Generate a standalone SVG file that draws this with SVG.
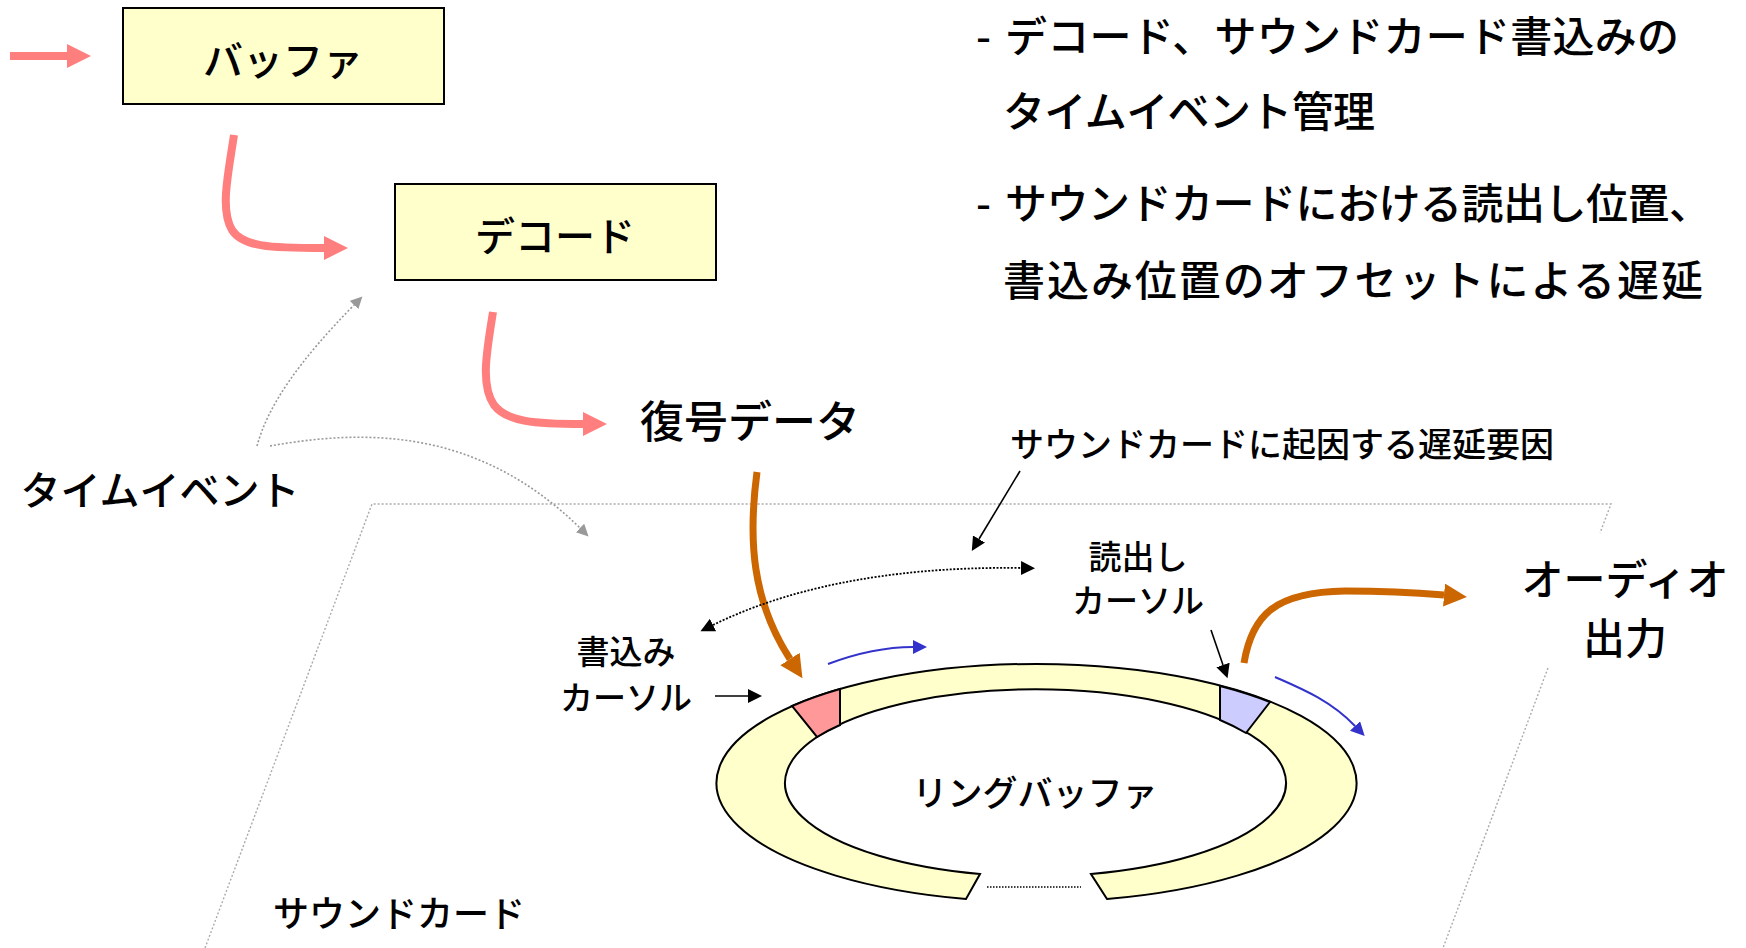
<svg xmlns="http://www.w3.org/2000/svg" width="1746" height="948" viewBox="0 0 1746 948">
<style>
text{font-family:"Noto Sans CJK JP","Noto Sans CJK SC",sans-serif;font-weight:500;fill:#000;dominant-baseline:central;text-anchor:middle}
.note{text-anchor:start}
.box{fill:#FFFFCC;stroke:#000;stroke-width:2}
.pink{fill:none;stroke:#FF7F7F;stroke-width:8}
.orange{fill:none;stroke:#CC6600;stroke-width:7}
.blue{fill:none;stroke:#3333CC;stroke-width:2}
.gray{fill:none;stroke:#999;stroke-width:1.6;stroke-dasharray:2 2}
.blk{fill:none;stroke:#000;stroke-width:1.6}
.blkdot{fill:none;stroke:#000;stroke-width:1.8;stroke-dasharray:2 1.6}
.frame{fill:none;stroke:#AAA;stroke-width:1.4;stroke-dasharray:2 2}
.ring{fill:#FFFFCC;stroke:#000;stroke-width:2}
</style>
<defs>
<marker id="mPink" markerUnits="userSpaceOnUse" markerWidth="26" markerHeight="26" refX="0" refY="12" orient="auto"><path d="M0,0 L24,12 L0,24 Z" fill="#FF7F7F"/></marker>
<marker id="mOrange" markerUnits="userSpaceOnUse" markerWidth="26" markerHeight="26" refX="0" refY="11.5" orient="auto"><path d="M0,0 L23,11.5 L0,23 Z" fill="#CC6600"/></marker>
<marker id="mBlue" markerUnits="userSpaceOnUse" markerWidth="16" markerHeight="16" refX="0" refY="7" orient="auto"><path d="M0,0 L14,7 L0,14 Z" fill="#3333CC"/></marker>
<marker id="mBlack" markerUnits="userSpaceOnUse" markerWidth="16" markerHeight="16" refX="0" refY="7" orient="auto"><path d="M0,0 L14,7 L0,14 Z" fill="#000"/></marker>
<marker id="mBlackS" markerUnits="userSpaceOnUse" markerWidth="16" markerHeight="16" refX="0" refY="7" orient="auto-start-reverse"><path d="M0,0 L14,7 L0,14 Z" fill="#000"/></marker>
<marker id="mGray" markerUnits="userSpaceOnUse" markerWidth="14" markerHeight="14" refX="0" refY="6" orient="auto"><path d="M0,0 L12,6 L0,12 Z" fill="#999"/></marker>
</defs>

<g id="soundcard-frame">
<polyline class="frame" points="205,948 372,504 1611,504 1600,533"/>
<line class="frame" x1="1548" y1="668" x2="1443" y2="948"/>
</g>

<g id="buffer"><rect class="box" x="123" y="8" width="321" height="96"/><text x="283" y="58" font-size="40">バッファ</text></g>
<g id="decode"><rect class="box" x="395" y="184" width="321" height="96"/><text x="555" y="234" font-size="40">デコード</text></g>
<g id="decoded-data"><text x="750" y="419" font-size="44">復号データ</text></g>
<g id="time-event"><text x="160" y="488" font-size="40">タイムイベント</text></g>
<g id="delay-factor"><text x="1282" y="442" font-size="34">サウンドカードに起因する遅延要因</text></g>
<g id="read-cursor-label"><text x="1138" y="555" font-size="33">読出し</text><text x="1138" y="599" font-size="33">カーソル</text></g>
<g id="write-cursor-label"><text x="626" y="650" font-size="33">書込み</text><text x="626" y="696" font-size="33">カーソル</text></g>
<g id="audio-out"><text x="1625" y="576" font-size="42">オーディオ</text><text x="1625" y="635" font-size="42">出力</text></g>
<g id="soundcard-label"><text x="399" y="911" font-size="36">サウンドカード</text></g>

<g id="notes">
<text class="note" font-size="42" x="976" y="33">-</text>
<text class="note" font-size="42" x="1005" y="33" textLength="674">デコード、サウンドカード書込みの</text>
<text class="note" font-size="42" x="1003" y="108" textLength="372">タイムイベント管理</text>
<text class="note" font-size="42" x="976" y="200">-</text>
<text class="note" font-size="42" x="1005" y="200" textLength="706">サウンドカードにおける読出し位置、</text>
<text class="note" font-size="42" x="1003" y="277" textLength="700">書込み位置のオフセットによる遅延</text>
</g>

<g id="ring-buffer">
<path class="ring" d="M966,899 A320,119 0 1 1 1107,899 L1091,874 A250.5,93.5 0 1 0 980,874 Z"/>
<path d="M792,706 A320,119 0 0 1 840,689 L840,725 A250.5,93.5 0 0 0 817,737 Z" fill="#FF9999" stroke="#000" stroke-width="2"/>
<path d="M1220,686 A320,119 0 0 1 1270,702 L1246,733 A250.5,93.5 0 0 0 1220,720 Z" fill="#CCCCFF" stroke="#000" stroke-width="2"/>
<line x1="987" y1="887" x2="1081" y2="887" stroke="#000" stroke-width="1.5" stroke-dasharray="1.5 1.5"/>
<text x="1035" y="790" font-size="35">リングバッファ</text>
</g>

<g id="connectors">
<line class="pink" x1="10" y1="56" x2="67" y2="56" marker-end="url(#mPink)"/>
<path class="pink" d="M234,135 C228,175 220,210 232,230 C243,247 270,248 324,248" marker-end="url(#mPink)"/>
<path class="pink" d="M493,312 C487,350 480,385 494,405 C507,422 535,424 583,424" marker-end="url(#mPink)"/>
<path class="orange" d="M757,472 C748,540 752,600 790,659" marker-end="url(#mOrange)"/>
<path class="orange" d="M1244,663 C1252,615 1275,592 1345,591 C1390,591 1420,593 1444,595" marker-end="url(#mOrange)"/>
<path class="gray" d="M257,446 C268,405 300,360 354,305" marker-end="url(#mGray)"/>
<path class="gray" d="M270,446 C370,428 480,430 580,528" marker-end="url(#mGray)"/>
<line class="blk" x1="1020" y1="471" x2="979" y2="539" marker-end="url(#mBlack)"/>
<path class="blkdot" d="M713,625 C780,592 880,566 1021,568" marker-start="url(#mBlackS)" marker-end="url(#mBlack)"/>
<line class="blk" x1="715" y1="696" x2="748" y2="696" marker-end="url(#mBlack)"/>
<line class="blk" x1="1211" y1="630" x2="1223" y2="665" marker-end="url(#mBlack)"/>
<path class="blue" d="M828,664 C860,652 885,647 913,647" marker-end="url(#mBlue)"/>
<path class="blue" d="M1275,677 C1300,688 1330,700 1355,726" marker-end="url(#mBlue)"/>
</g>
</svg>
